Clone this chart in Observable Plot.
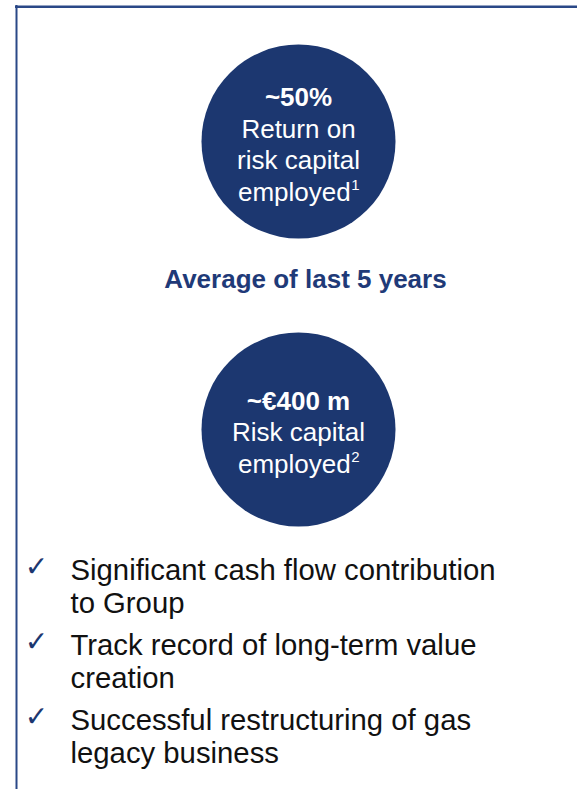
<!DOCTYPE html>
<html>
<head>
<meta charset="utf-8">
<script src="https://cdn.jsdelivr.net/npm/d3@7"></script>
<script src="https://cdn.jsdelivr.net/npm/@observablehq/plot@0.6"></script>
<style>
  html, body { margin: 0; padding: 0; background: #fff; }
  #chart svg { display: block; }
</style>
</head>
<body>
<div id="chart"></div>
<script>
// ---- content ----
const circleHeadlines = ["~50%", "~€400 m"];
const circleLines = [
  ["Return on", "risk capital", "employed"],
  ["Risk capital", "employed"]
];
const footnoteMarks = ["1", "2"];
const subheading = "Average of last 5 years";
const bulletItems = [
  ["Significant cash flow contribution", "to Group"],
  ["Track record of long-term value", "creation"],
  ["Successful restructuring of gas", "legacy business"]
];

// ---- layout ----
const W = 577, H = 789;
const navy = "#1c3770";
const fontName = "'Liberation Sans', Arial, sans-serif";
const circleCenters = [{x: 298, y: 141}, {x: 298, y: 429}];
const circleR = 97;
const lineGap = 31.5;
const bodySize = 26, supSize = 15;

const ctx = document.createElement("canvas").getContext("2d");
const measure = (t, size) => { ctx.font = `${size}px ${fontName}`; return ctx.measureText(t).width; };

const circles = circleHeadlines.map((h, i) => ({...circleCenters[i], label: h}));
const textTop = i => circleCenters[i].y - circleLines[i].length * lineGap / 2 + 3.5;
const headlineRows = circleHeadlines.map((h, i) => ({x: circleCenters[i].x, y: textTop(i), text: h}));
const lineRows = [];
const supRows = [];
circleLines.forEach((lines, i) => {
  lines.forEach((t, j) => {
    const y = textTop(i) + (j + 1) * lineGap;
    if (j === lines.length - 1) {
      const w = measure(t, bodySize), ws = measure(footnoteMarks[i], supSize);
      const x0 = circleCenters[i].x - (w + ws) / 2;
      lineRows.push({x: x0, y, text: t, anchor: "start"});
      supRows.push({x: x0 + w + 0.5, y: y - 7, text: footnoteMarks[i]});
    } else {
      lineRows.push({x: circleCenters[i].x, y, text: t, anchor: "middle"});
    }
  });
});
const centeredLines = lineRows.filter(d => d.anchor === "middle");
const startLines = lineRows.filter(d => d.anchor === "start");
const bulletRows = bulletItems.flatMap((lines, i) =>
  lines.map((t, j) => ({x: 70, y: 570 + i * 75 + j * 33, text: t})));
const checkRows = bulletItems.map((lines, i) => ({x: 36, y: 567 + i * 75, text: "✓"}));

const chart = Plot.plot({
  width: W,
  height: H,
  margin: 0,
  x: {domain: [0, W], range: [0, W], axis: null},
  y: {domain: [0, H], range: [0, H], axis: null},
  marks: [
    Plot.ruleY([6.3], {x1: 15, x2: W, stroke: "#2a4887", strokeWidth: 2.5}),
    Plot.ruleX([16], {y1: 5, y2: H, stroke: "#2a4887", strokeWidth: 2}),
    Plot.dot(circles, {x: "x", y: "y", r: circleR, fill: navy, stroke: null}),
    Plot.text(headlineRows, {x: "x", y: "y", text: "text", fill: "white", fontSize: 26, fontWeight: "bold", fontFamily: fontName}),
    Plot.text(centeredLines, {x: "x", y: "y", text: "text", fill: "white", fontSize: bodySize, fontFamily: fontName}),
    Plot.text(startLines, {x: "x", y: "y", text: "text", textAnchor: "start", fill: "white", fontSize: bodySize, fontFamily: fontName}),
    Plot.text(supRows, {x: "x", y: "y", text: "text", textAnchor: "start", fill: "white", fontSize: supSize, fontFamily: fontName}),
    Plot.text([subheading], {x: () => 305, y: () => 279, text: d => d, fill: "#1f3a78", fontSize: 26, fontWeight: "bold", fontFamily: fontName}),
    Plot.text(checkRows, {x: "x", y: "y", text: "text", fill: navy, fontSize: 28, fontFamily: "'DejaVu Sans', sans-serif"}),
    Plot.text(bulletRows, {x: "x", y: "y", text: "text", textAnchor: "start", fill: "#111", fontSize: 29.3, fontFamily: fontName})
  ]
});
document.getElementById("chart").appendChild(chart);
</script>
</body>
</html>
